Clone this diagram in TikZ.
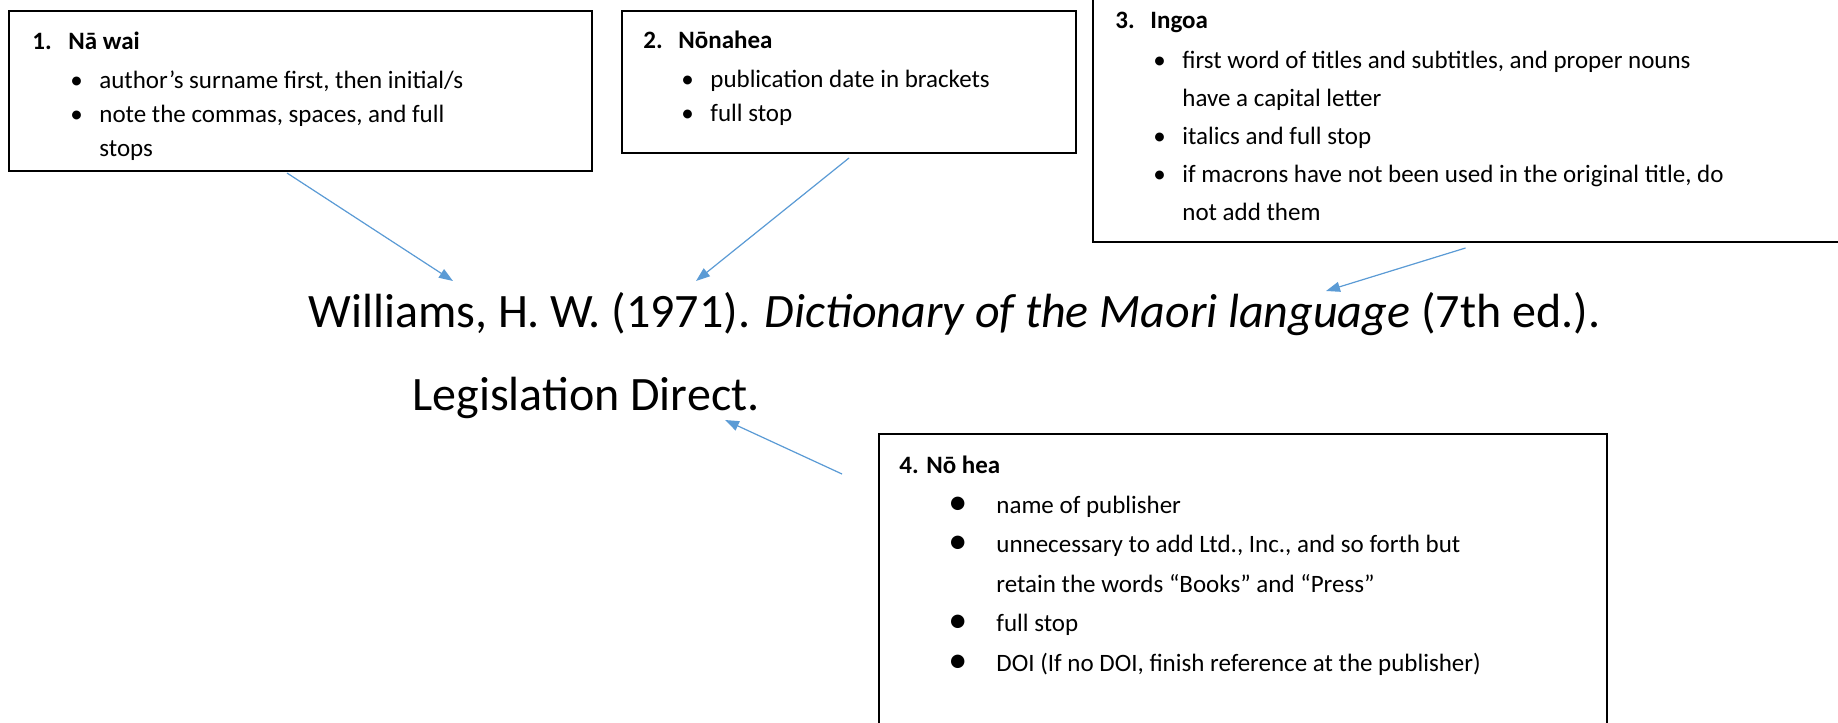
\documentclass[tikz,border=0pt]{standalone}
\usepackage{fontspec}
\setmainfont{Carlito}
\usepackage{xcolor}
\usetikzlibrary{arrows.meta, fit}
\definecolor{linkblue}{RGB}{91,155,213}
\tikzstyle{notebox} = [rectangle, draw=black, line width=1pt, inner sep=0pt]
\tikzstyle{notetext} = [anchor=base west, align=left, inner sep=0pt]
\tikzstyle{reftext} = [anchor=base west, inner sep=0pt, font=\fontsize{24}{28}\selectfont]
\tikzstyle{pointer} = [draw=linkblue, line width=0.6pt, -{Triangle[length=7pt,width=5pt]}, fill=linkblue]
\newcommand{\bitem}{\hspace*{19pt}\makebox[14.5pt][l]{\textbullet}}
\newcommand{\bigitem}{\hspace*{24.5pt}\makebox[24pt][l]{\raisebox{-0.6pt}{\fontsize{19}{19}\selectfont\textbullet}}}

\begin{document}
\begin{tikzpicture}[x=0.5pt, y=-0.5pt]
\useasboundingbox (0,0) rectangle (1838,723);

% --------- Boxes ----------
\node (WHO)   [notebox, fit={(9,11) (592,171)}] {};
\node (WHEN)  [notebox, fit={(622,11) (1076,153)}] {};
\node (TITLE) [notebox, fit={(1093,-10) (1850,242)}] {};
\node (PUB)   [notebox, fit={(879,434) (1607,740)}] {};

% --------- Box texts (anchored at the last line) ----------
\node (WHO_TXT) [notetext, font=\fontsize{12.5}{17}\selectfont] at (32,156) {%
  \textbf{\makebox[18pt][l]{1.}Nā wai}\\[2.5pt]
  \bitem author’s surname first, then initial/s\\
  \bitem note the commas, spaces, and full\\
  \hspace*{33.5pt}stops};
\node (WHEN_TXT) [notetext, font=\fontsize{12.5}{17}\selectfont] at (643,121) {%
  \textbf{\makebox[17.5pt][l]{2.}Nōnahea}\\[2.5pt]
  \bitem publication date in brackets\\
  \bitem full stop};
\node (TITLE_TXT) [notetext, font=\fontsize{12.5}{19}\selectfont] at (1115,220) {%
  \textbf{\makebox[17.5pt][l]{3.}Ingoa}\\[1pt]
  \bitem first word of titles and subtitles, and proper nouns\\
  \hspace*{33.5pt}have a capital letter\\
  \bitem italics and full stop\\
  \bitem if macrons have not been used in the original title, do\\
  \hspace*{33.5pt}not add them};
\node (PUB_TXT) [notetext, font=\fontsize{12.5}{19.75}\selectfont] at (899,671) {%
  \textbf{4. Nō hea}\\
  \bigitem name of publisher\\
  \bigitem unnecessary to add Ltd., Inc., and so forth but\\
  \hspace*{48.5pt}retain the words “Books” and “Press”\\
  \bigitem full stop\\
  \bigitem DOI (If no DOI, finish reference at the publisher)};

% --------- Reference ----------
\node (REF1) [reftext] at (308,327) {Williams, H. W. (1971). \textit{Dictionary of the Maori language} (7th ed.).};
\node (REF2) [reftext] at (412,410) {Legislation Direct.};

% --------- Arrows ----------
\coordinate (TIP1) at (453,281);
\coordinate (TIP2) at (696,281);
\coordinate (TIP3) at (1326,291);
\coordinate (TIP4) at (725,420);
\draw [pointer] ([xshift=-6.75pt,yshift=-0.5pt]WHO.south) -- (TIP1);
\draw [pointer] ([yshift=-2pt]WHEN.south) -- (TIP2);
\draw [pointer] ([xshift=-3pt,yshift=-2.5pt]TITLE.south) -- (TIP3);
\draw [pointer] ([shift={(-36,41)}]PUB.north west) -- (TIP4);

\end{tikzpicture}
\end{document}
